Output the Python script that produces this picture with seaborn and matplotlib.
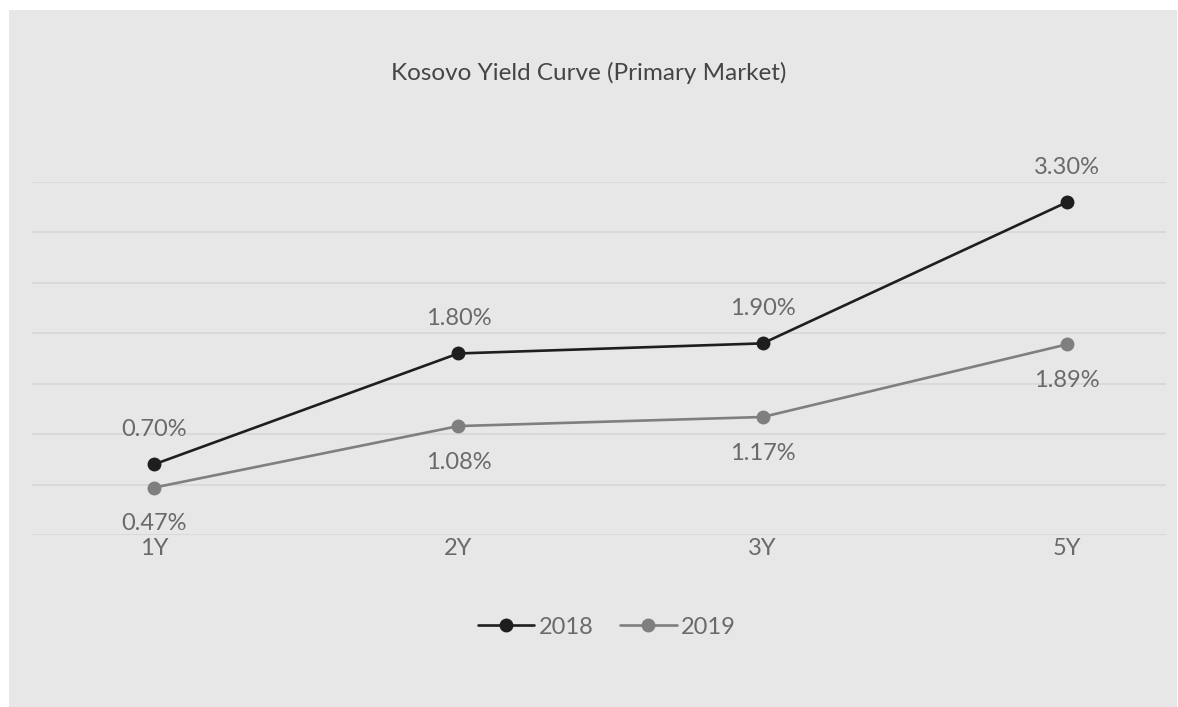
import matplotlib
matplotlib.use("Agg")
import matplotlib.pyplot as plt
from matplotlib.patches import Rectangle
import seaborn as sns
import pandas as pd

# Yield curve data (percent)
tenors = ["1Y", "2Y", "3Y", "5Y"]
yields_2018 = [0.70, 1.80, 1.90, 3.30]
yields_2019 = [0.47, 1.08, 1.17, 1.89]
years = ["2018", "2019"]

df = pd.DataFrame({
    "tenor": tenors * 2,
    "pos": list(range(len(tenors))) * 2,
    "yield": yields_2018 + yields_2019,
    "year": [years[0]] * len(tenors) + [years[1]] * len(tenors),
})

sns.set_theme(style="white")
plt.rcParams["font.family"] = ["Lato", "DejaVu Sans"]

bg = "#e7e7e7"
text_col = "#6a6a6a"
label_size = 17
palette = {"2018": "#1e1e1e", "2019": "#7f7f7f"}

fig = plt.figure(figsize=(11.78, 7.07), dpi=100)
fig.patch.set_facecolor("white")
fig.patches.append(Rectangle((9 / 1178, 0), 1168 / 1178, 697 / 707,
                             transform=fig.transFigure, facecolor=bg,
                             edgecolor="none", zorder=-10))

ax = fig.add_axes([32 / 1178, 172 / 707, 1134 / 1178, 353 / 707])
ax.patch.set_alpha(0)

sns.lineplot(data=df, x="pos", y="yield", hue="year", palette=palette,
             marker="o", markersize=10, linewidth=1.9, markeredgewidth=0,
             ax=ax, legend=True)

ax.set_ylim(0, 3.5)
ax.set_xlim(-122 / 304.3, 3 + 99 / 304.3)
ax.set_yticks([i * 0.5 for i in range(8)])
ax.yaxis.grid(True, color="#d8d8d8", linewidth=1.3)
ax.set_axisbelow(True)
ax.set_yticklabels([])
ax.tick_params(axis="y", length=0)
ax.set_xticks(range(len(tenors)))
ax.set_xticklabels(tenors)
ax.tick_params(axis="x", length=0, pad=2, labelsize=label_size, labelcolor=text_col)
ax.set_xlabel("")
ax.set_ylabel("")
for s in ax.spines.values():
    s.set_visible(False)

# Value labels: 2018 above, 2019 below
for i, v in enumerate(yields_2018):
    ax.annotate(f"{v:.2f}%", (i, v), xytext=(0, 25), textcoords="offset points",
                ha="center", va="center", fontsize=label_size, color=text_col)
for i, v in enumerate(yields_2019):
    ax.annotate(f"{v:.2f}%", (i, v), xytext=(0, -26), textcoords="offset points",
                ha="center", va="center", fontsize=label_size, color=text_col)

fig.text(589 / 1178, (707 - 73) / 707, "Kosovo Yield Curve (Primary Market)",
         ha="center", va="center", fontsize=17.5, color="#454545")

handles, labels = ax.get_legend_handles_labels()
leg = ax.legend(handles, labels, loc="center", bbox_to_anchor=(607 / 1178, 80 / 707),
                bbox_transform=fig.transFigure, ncol=2, frameon=False,
                fontsize=label_size, labelcolor=text_col,
                handlelength=2.4, handletextpad=0.2, columnspacing=1.1)

fig.savefig("out.png", dpi=100, facecolor=fig.get_facecolor())
